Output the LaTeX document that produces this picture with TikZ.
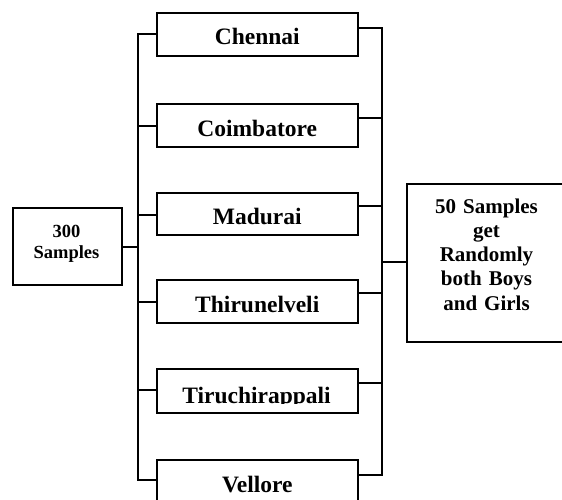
\documentclass[tikz,border=0pt]{standalone}
\usepackage{fontspec}
\setmainfont{Liberation Serif}
\begin{document}
\begin{tikzpicture}[x=1pt,y=-1pt,
  conn/.style={line width=1.5pt,line cap=rect},
  box/.style={draw,line width=1.5pt,rectangle,inner sep=0pt,anchor=north west},
  city/.style={box,minimum width=201pt,font=\fontsize{23.5}{27}\selectfont\bfseries},
  citytext/.style={anchor=base,inner sep=0pt,font=\fontsize{23.5}{27}\selectfont\bfseries},
  bigtext/.style={anchor=base,inner sep=0pt,text width=160pt,align=center}
]
\clip (0,0) rectangle (562,499);
\fill[white] (0,0) rectangle (562,499);

% source box
\node[box,minimum width=109pt,minimum height=77pt] (s) at (12,207) {};
\node[bigtext,font=\fontsize{18.5}{21}\selectfont\bfseries] (stext) at (66.5,237) {300\\Samples};

% city boxes
\node[city,text height=32pt,text depth=11pt] (c1) at (156,12) {Chennai};
\node[city,text height=33pt,text depth=10pt] (c2) at (156,103) {Coimbatore};
\node[city,text height=32pt,text depth=10pt] (c3) at (156,192) {Madurai};
\node[city,text height=33pt,text depth=10pt] (c4) at (156,279) {Thirunelveli};
\node[city,minimum height=44pt] (c5) at (156,368) {};
\begin{scope}
  \clip (157,369) rectangle (356,403.5);
  \node[citytext] (c5text) at (256.5,403) {Tiruchirappali};
\end{scope}
\node[city,text height=33pt,text depth=20pt] (c6) at (156,459) {Vellore};

% result box
\node[box,minimum width=161pt,minimum height=158pt] (res) at (406,183) {};
\node[bigtext,font=\fontsize{21}{24.25}\selectfont\bfseries] (restext) at (486.5,213)
  {50 Samples\\get\\Randomly\\both Boys\\and Girls};

% left bus
\coordinate (L0) at (138,247);
\coordinate (L1) at (138,34);
\coordinate (L2) at (138,126);
\coordinate (L3) at (138,215);
\coordinate (L4) at (138,302);
\coordinate (L5) at (138,390);
\coordinate (L6) at (138,480);
\draw[conn] (L1) -- (L6);
\draw[conn] (s.east |- L0) -- (L0);
\foreach \i in {1,...,6} {\draw[conn] (L\i) -- (c\i.west |- L\i);}

% right bus
\coordinate (R0) at (382,262);
\coordinate (R1) at (382,28);
\coordinate (R2) at (382,118);
\coordinate (R3) at (382,206);
\coordinate (R4) at (382,293);
\coordinate (R5) at (382,383);
\coordinate (R6) at (382,475);
\draw[conn] (R1) -- (R6);
\foreach \i in {1,...,6} {\draw[conn] (c\i.east |- R\i) -- (R\i);}
\draw[conn] (R0) -- (res.west |- R0);
\end{tikzpicture}
\end{document}
